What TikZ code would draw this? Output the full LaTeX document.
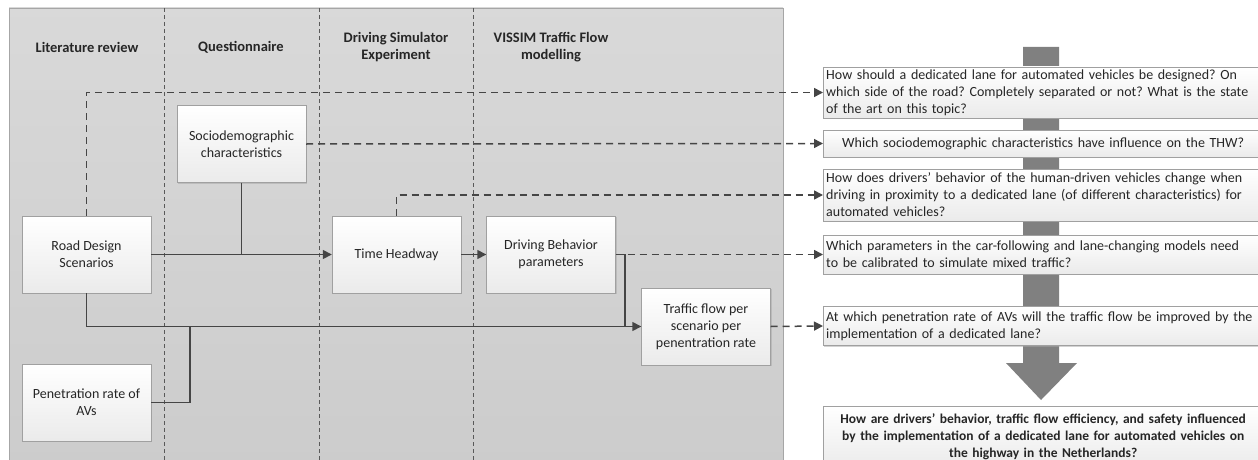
\documentclass[tikz,border=0pt]{standalone}
\usepackage{fontspec}
\setmainfont{Carlito}
\usetikzlibrary{arrows.meta,shadows}

\definecolor{panelborder}{HTML}{A6A6A6}
\definecolor{boxborder}{HTML}{A0A0A0}
\definecolor{linkcol}{HTML}{454545}
\definecolor{txtcol}{HTML}{262626}
\definecolor{bigarrow}{HTML}{808080}

\begin{document}
\frenchspacing
\begin{tikzpicture}[
  x=1pt, y=-1pt,
  font=\fontsize{14}{17}\selectfont, text=txtcol,
  box/.style = {draw=boxborder, top color=white, bottom color=black!8,
    align=center, inner sep=2pt,
    drop shadow={shadow xshift=1pt, shadow yshift=-1pt, fill=black!35}},
  lbox/.style = {box, minimum width=129, minimum height=77},
  qbox/.style = {box, anchor=west, text width=434, align=left,
    minimum width=440, inner xsep=3pt},
  head/.style = {align=center, font=\fontsize{14.5}{17}\selectfont\bfseries},
  arrow/.style = {line width=1.5pt, draw=linkcol,
    -{Triangle[length=9pt,width=9pt]}},
  link/.style = {line width=1.5pt, draw=linkcol},
  darrow/.style = {arrow, dash pattern=on 7pt off 5pt},
  lane/.style = {draw=black!65, line width=0.6pt, dash pattern=on 4pt off 3pt}
]
\clip (0,0) rectangle (1258,460);

% Background panel and lane separators
\shade[top color=black!15, bottom color=black!20, draw=panelborder]
  (9,8) rectangle (783,470);
\draw[lane] (164,8) -- (164,470);
\draw[lane] (319,8) -- (319,470);
\draw[lane] (473,8) -- (473,470);

% Column titles
\node [head] (hlit)  at (87,47)  {Literature review};
\node [head] (hques) at (241,47) {Questionnaire};
\node [head] (hsim)  at (396,47) {Driving Simulator\\Experiment};
\node [head] (hvis)  at (551,47) {VISSIM Traffic Flow\\modelling};

% Left part: methods
\node [lbox] (socio)   at (241.5,144)   {Sociodemographic\\characteristics};
\node [lbox] (road)    at (86.5,254.5)  {Road Design\\Scenarios};
\node [lbox] (penrate) at (86.5,402.5)  {Penetration rate of\\AVs};
\node [lbox] (thw)     at (396.5,254.5) {Time Headway};
\node [lbox] (behav)   at (551,254.5)   {Driving Behavior\\parameters};
\node [lbox] (flow)    at (706,326.5)   {Traffic flow per\\scenario per\\penentration rate};

% Right part: big arrow behind the questions
\fill [bigarrow] (1023,47) -- (1059,47) -- (1059,363) -- (1077,363)
  -- (1041,400) -- (1006,363) -- (1023,363) -- cycle;

% Questions
\node [qbox, minimum height=51] (q1) at (823,92.5)
  {How should a dedicated lane for automated vehicles be designed? On\\
   which side of the road? Completely separated or not? What is the state\\
   of the art on this topic?};
\node [qbox, minimum height=27, align=center] (q2) at (823,143.5)
  {Which sociodemographic characteristics have influence on the THW?};
\node [qbox, minimum height=52] (q3) at (823,195)
  {How does drivers’ behavior of the human-driven vehicles change when\\
   driving in proximity to a dedicated lane (of different characteristics) for\\
   automated vehicles?};
\node [qbox, minimum height=39] (q4) at (823,254.5)
  {Which parameters in the car-following and lane-changing models need\\
   to be calibrated to simulate mixed traffic?};
\node [qbox, minimum height=39] (q5) at (823,326)
  {At which penetration rate of AVs will the traffic flow be improved by the\\
   implementation of a dedicated lane?};
\node [qbox, minimum height=62, align=center, anchor=north west,
  inner ysep=4pt, font=\fontsize{13.5}{17}\selectfont\bfseries] (main) at (823,406)
  {How are drivers’ behavior, traffic flow efficiency, and safety influenced\\
   by the implementation of a dedicated lane for automated vehicles on\\
   the highway in the Netherlands?};

% Solid flow
\draw [link] (socio.south) -- (socio.south |- road.east);
\draw [arrow] (road.east) -- (thw.west);
\draw [arrow] (thw.east) -- (behav.west);
\draw [arrow] (road.south) |- (flow.west);
\draw [link] (penrate.east) -| (190,326.5);
\draw [link] (behav.east) -- (625,254.5) -- (625,326.5);

% Dashed links to the questions
\draw [darrow] (road.north) |- (q1.west);
\draw [darrow] (socio.east) -- (q2.west);
\draw [darrow] (thw.north) |- (q3.west);
\draw [darrow] (behav.east) -- (q4.west);
\draw [darrow] (flow.east) -- (q5.west);

\end{tikzpicture}
\end{document}
